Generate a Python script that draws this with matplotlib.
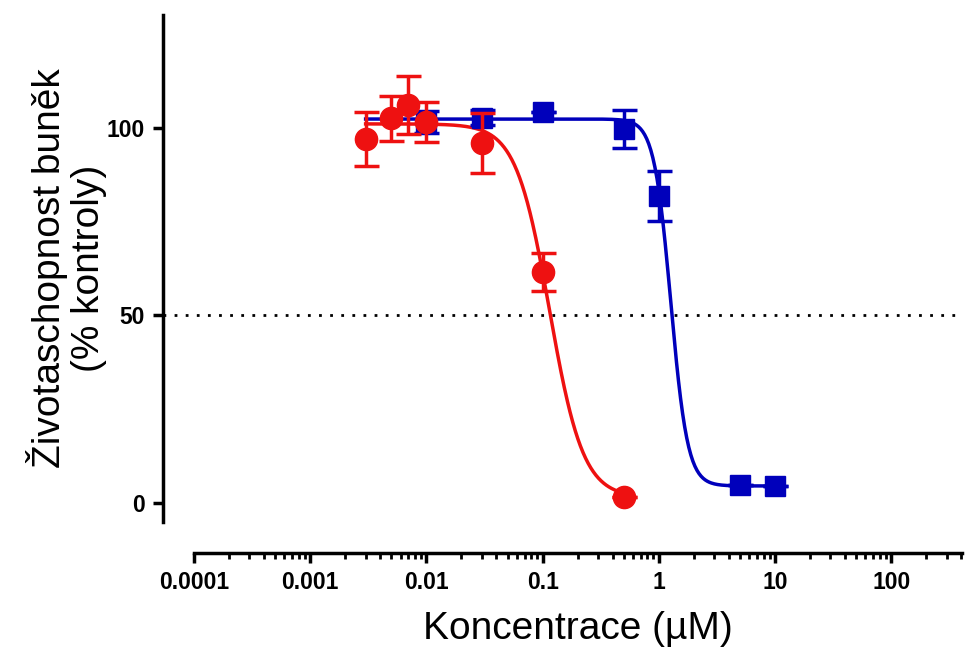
import numpy as np
import matplotlib
matplotlib.use("Agg")
import matplotlib.pyplot as plt
from matplotlib.ticker import LogLocator, FixedLocator, NullFormatter
import matplotlib.transforms as mtransforms

plt.rcParams['font.family'] = ['Liberation Sans', 'DejaVu Sans']

# Red series (circles)
red_x = [0.003, 0.005, 0.007, 0.01, 0.03, 0.1, 0.5]
red_y = [97.0, 102.5, 106.0, 101.5, 96.0, 61.5, 1.7]
red_err = [7.3, 6.0, 7.7, 5.3, 8.0, 5.0, 0.0]

# Blue series (squares)
blue_x = [0.01, 0.03, 0.1, 0.5, 1.0, 5.0, 10.0]
blue_y = [101.5, 102.7, 104.3, 99.7, 81.8, 4.8, 4.6]
blue_err = [3.0, 2.0, 0.0, 5.0, 6.7, 0.0, 0.0]

# 4PL fit parameters (top, bottom, IC50, Hill)
red_fit = (101.0, 1.5, 0.115, 3.0)
blue_fit = (102.3, 4.6, 1.27, 6.0)
red_fit_range = (0.003, 0.5)
blue_fit_range = (0.003, 10.0)

xticks = [0.0001, 0.001, 0.01, 0.1, 1, 10, 100]
xticklabels = ['0.0001', '0.001', '0.01', '0.1', '1', '10', '100']
yticks = [0, 50, 100]

RED = '#ee1111'
BLUE = '#0000bb'


def four_pl(x, top, bottom, ic50, hill):
    return bottom + (top - bottom) / (1.0 + (x / ic50) ** hill)


W, H = 965, 652
fig = plt.figure(figsize=(W / 100, H / 100), dpi=100)
left, right, top, bottom = 194, 962, 15, 522
ax = fig.add_axes([left / W, 1 - bottom / H, (right - left) / W, (bottom - top) / H])

ax.set_xscale('log')
ax.set_xlim(1e-4, 10 ** 2.61)
ax.set_ylim(-5, 130)

lw = 2.5
# fitted curves
xr = np.logspace(np.log10(red_fit_range[0]), np.log10(red_fit_range[1]), 400)
ax.plot(xr, four_pl(xr, *red_fit), color=RED, lw=2.5, zorder=3)
xb = np.logspace(np.log10(blue_fit_range[0]), np.log10(blue_fit_range[1]), 400)
ax.plot(xb, four_pl(xb, *blue_fit), color=BLUE, lw=2.5, zorder=2)

ax.errorbar(blue_x, blue_y, yerr=blue_err, fmt='s', color=BLUE, ms=15,
            capsize=9, capthick=2.5, elinewidth=2.5, zorder=4)
ax.errorbar(red_x, red_y, yerr=red_err, fmt='o', color=RED, ms=16,
            capsize=9, capthick=2.5, elinewidth=2.5, zorder=5)

# dotted 50% line extending to y-axis
off_px = 31
trans = mtransforms.blended_transform_factory(ax.transAxes, ax.transData)
ax.plot([-off_px / (right - left), 1.0], [50, 50], transform=trans, color='black',
        lw=2, linestyle=(0, (1, 3)), clip_on=False, zorder=1)

for s in ['top', 'right']:
    ax.spines[s].set_visible(False)
ax.spines['left'].set_position(('outward', off_px * 0.72))
ax.spines['bottom'].set_position(('outward', off_px * 0.72))
ax.spines['left'].set_linewidth(lw)
ax.spines['bottom'].set_linewidth(lw)

ax.xaxis.set_major_locator(FixedLocator(xticks))
ax.set_xticklabels(xticklabels)
ax.xaxis.set_minor_locator(LogLocator(base=10, subs=np.arange(2, 10), numticks=20))
ax.xaxis.set_minor_formatter(NullFormatter())
ax.set_yticks(yticks)

ax.tick_params(axis='both', which='major', length=7, width=lw, labelsize=16.5, pad=6)
ax.tick_params(axis='x', which='minor', length=4.5, width=2)
for lab in ax.get_xticklabels() + ax.get_yticklabels():
    lab.set_fontweight('bold')

ax.set_xlabel('Koncentrace (µM)', fontsize=28, labelpad=12)
ax.set_ylabel('Životaschopnost buněk\n(% kontroly)', fontsize=28, labelpad=0,
              linespacing=1.1)

fig.savefig('out.png', dpi=100)
